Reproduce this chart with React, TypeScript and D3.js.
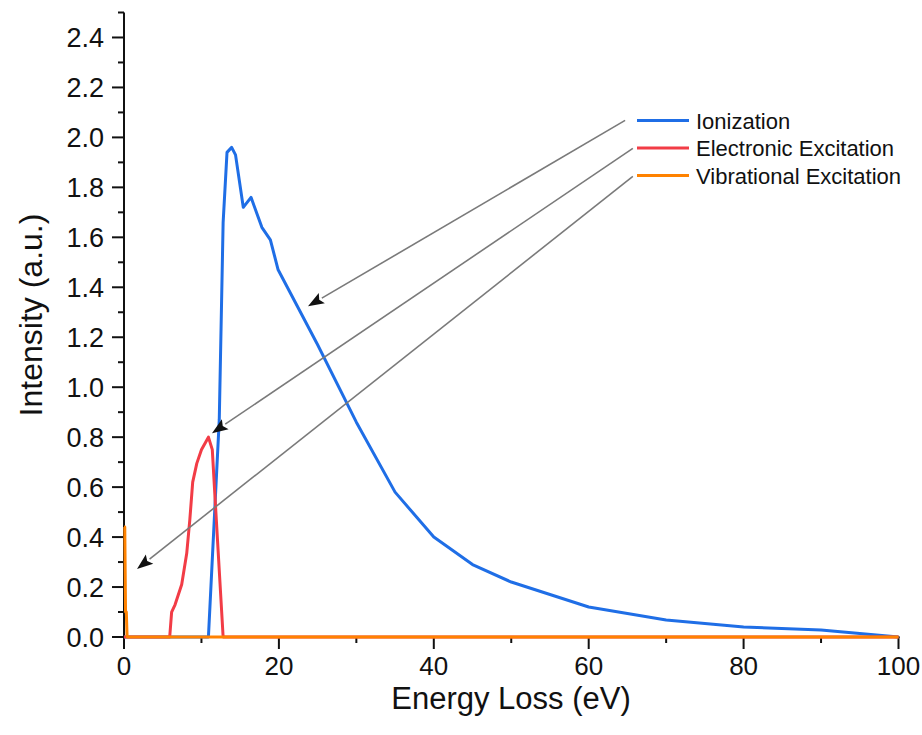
import React from "react";
import * as d3 from "d3";

const ionE = [0, 10.9, 12.3, 12.8, 13.3, 13.9, 14.4, 15.4, 16.4, 17.8, 18.9, 19.9, 25, 30, 35, 40, 45, 50, 55, 60, 70, 80, 90, 100];
const ionV = [0, 0, 0.87, 1.66, 1.94, 1.96, 1.93, 1.72, 1.76, 1.64, 1.59, 1.47, 1.17, 0.86, 0.58, 0.40, 0.29, 0.22, 0.17, 0.12, 0.068, 0.04, 0.028, 0];

const elE = [0, 5.9, 6.15, 6.6, 7.45, 8.1, 8.5, 8.87, 9.4, 10.0, 10.9, 11.4, 11.75, 12.8, 100];
const elV = [0, 0, 0.10, 0.13, 0.21, 0.335, 0.47, 0.62, 0.695, 0.75, 0.80, 0.75, 0.56, 0, 0];

const vibE = [0, 0.1, 0.2, 0.3, 0.4, 100];
const vibV = [0.44, 0.44, 0.1, 0.1, 0, 0];

const seriesNames = ["Ionization", "Electronic Excitation", "Vibrational Excitation"];
const seriesColors = ["#1f6ee6", "#f23c46", "#ff8200"];

// annotation arrows, in data units
const arrowFrom = [[64.7, 2.068], [65.7, 1.956], [65.7, 1.844]];
const arrowTo = [[23.76, 1.324], [11.36, 0.816], [1.68, 0.272]];

const xMajor = [0, 20, 40, 60, 80, 100];
const xMinor = [10, 30, 50, 70, 90];
const yMajor = [0, 0.2, 0.4, 0.6, 0.8, 1.0, 1.2, 1.4, 1.6, 1.8, 2.0, 2.2, 2.4];
const yMinor = [0.1, 0.3, 0.5, 0.7, 0.9, 1.1, 1.3, 1.5, 1.7, 1.9, 2.1, 2.3, 2.5];

const W = 922;
const H = 735;
const FONT = "'Liberation Sans', Arial, sans-serif";

export default function App() {
  const x = d3.scaleLinear().domain([0, 100]).range([124, 898.5]);
  const y = d3.scaleLinear().domain([0, 2.5]).range([637, 12.5]);
  const line = d3
    .line<[number, number]>()
    .x((d) => x(d[0]))
    .y((d) => y(d[1]));

  const series = [
    ionE.map((e, i) => [e, ionV[i]] as [number, number]),
    elE.map((e, i) => [e, elV[i]] as [number, number]),
    vibE.map((e, i) => [e, vibV[i]] as [number, number]),
  ];

  const fmtY = d3.format(".1f");

  const arrows = arrowFrom.map((f, i) => {
    const x1 = x(f[0]);
    const y1 = y(f[1]);
    const x2 = x(arrowTo[i][0]);
    const y2 = y(arrowTo[i][1]);
    const dx = x2 - x1;
    const dy = y2 - y1;
    const len = Math.sqrt(dx * dx + dy * dy);
    const ux = dx / len;
    const uy = dy / len;
    const hl = 16;
    const hw = 6;
    const bx = x2 - ux * hl;
    const by = y2 - uy * hl;
    const head = `${x2},${y2} ${bx - uy * hw},${by + ux * hw} ${bx + ux * 3},${by + uy * 3} ${bx + uy * hw},${by - ux * hw}`;
    return { x1, y1, bx, by, head };
  });

  return (
    <svg
      width={W}
      height={H}
      style={{ position: "absolute", left: 0, top: 0, background: "#fff" }}
      fontFamily={FONT}
    >
      <rect width={W} height={H} fill="#fff" />
      <g stroke="#111" strokeWidth={2}>
        <line x1={x(0)} x2={x(0)} y1={y(2.5)} y2={y(0) + 1} />
        <line x1={x(0) - 1} x2={x(100) + 1} y1={y(0)} y2={y(0)} />
        {xMajor.map((v) => (
          <line key={"xM" + v} x1={x(v)} x2={x(v)} y1={y(0)} y2={y(0) + 12} />
        ))}
        {xMinor.map((v) => (
          <line key={"xm" + v} x1={x(v)} x2={x(v)} y1={y(0)} y2={y(0) + 6} />
        ))}
        {yMajor.map((v) => (
          <line key={"yM" + v} x1={x(0) - 12} x2={x(0)} y1={y(v)} y2={y(v)} />
        ))}
        {yMinor.map((v) => (
          <line key={"ym" + v} x1={x(0) - 6} x2={x(0)} y1={y(v)} y2={y(v)} />
        ))}
      </g>
      {series.map((s, i) => (
        <path
          key={i}
          d={line(s) || ""}
          fill="none"
          stroke={seriesColors[i]}
          strokeWidth={3}
          strokeLinejoin="round"
        />
      ))}
      {xMajor.map((v) => (
        <text key={"xl" + v} x={x(v)} y={y(0) + 38} textAnchor="middle" fontSize={26} fill="#111">
          {v}
        </text>
      ))}
      {yMajor.map((v) => (
        <text key={"yl" + v} x={x(0) - 20} y={y(v) + 9.5} textAnchor="end" fontSize={27} fill="#111">
          {fmtY(v)}
        </text>
      ))}
      <text x={511} y={709} textAnchor="middle" fontSize={31} fill="#111">
        Energy Loss (eV)
      </text>
      <text
        transform={`translate(42,315) rotate(-90)`}
        textAnchor="middle"
        fontSize={32}
        fill="#111"
      >
        Intensity (a.u.)
      </text>
      {arrows.map((a, i) => (
        <g key={"ar" + i}>
          <line x1={a.x1} y1={a.y1} x2={a.bx} y2={a.by} stroke="#7a7a7a" strokeWidth={1.6} />
          <polygon points={a.head} fill="#111" />
        </g>
      ))}
      {seriesNames.map((n, i) => (
        <g key={"lg" + i} transform={`translate(637, ${120.5 + i * 27.5})`}>
          <line x1={0} x2={52} y1={0} y2={0} stroke={seriesColors[i]} strokeWidth={3} />
          <text x={59} y={8} fontSize={22} fill="#111">
            {n}
          </text>
        </g>
      ))}
    </svg>
  );
}
